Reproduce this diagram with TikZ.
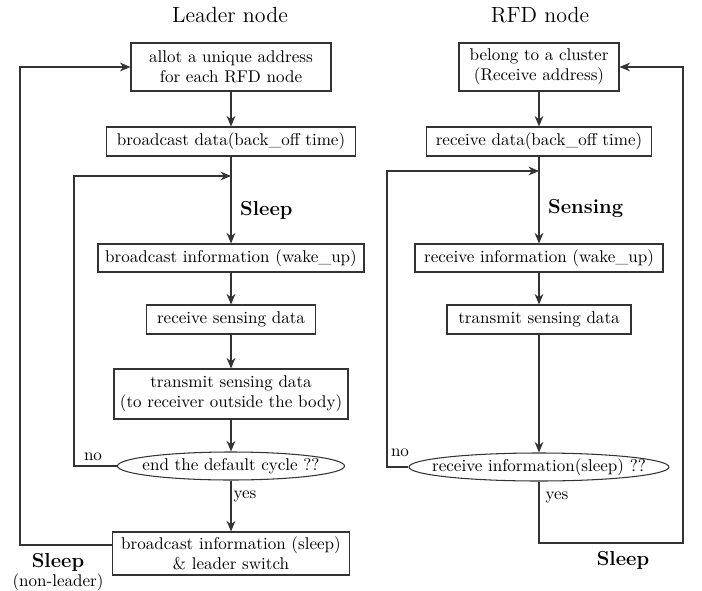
\documentclass[tikz,border=0pt]{standalone}
\usetikzlibrary{shapes.geometric,arrows.meta}
\tikzset{
  box/.style={draw=black!80, line width=0.6pt, align=center, inner sep=1pt, font=\fontsize{9.7}{11.5}\selectfont},
  cond/.style={ellipse, draw=black!80, line width=0.6pt, inner xsep=-2cm, inner ysep=-1cm, minimum height=0.56cm, font=\fontsize{9.7}{11.5}\selectfont},
  flow/.style={draw=black!80, line width=0.6pt, -{Stealth[length=6pt,width=5pt]}},
  state/.style={font=\fontsize{11.5}{13}\selectfont\bfseries},
  lab/.style={font=\fontsize{9.7}{11.5}\selectfont},
  title/.style={font=\fontsize{12.5}{15}\selectfont}
}
\begin{document}
\begin{tikzpicture}
  % 余白を含めた範囲
  \useasboundingbox (0,0) rectangle (14.04,11.8);
  % 見出し
  \node[title] (lead) at (4.6,11.5) {Leader node};
  \node[title] (rfd) at (10.8,11.5) {RFD node};
  % Leader node の処理
  \node[box, minimum width=4cm, minimum height=0.96cm] (allot) at (4.62,10.46) {allot a unique address\\for each RFD node};
  \node[box, minimum width=4.98cm, minimum height=0.58cm] (bcast) at (4.62,8.97) {broadcast data(back\_off time)};
  \node[box, minimum width=5.32cm, minimum height=0.56cm] (wake) at (4.62,6.64) {broadcast information (wake\_up)};
  \node[box, minimum width=3.38cm, minimum height=0.58cm] (rsense) at (4.62,5.41) {receive sensing data};
  \node[box, minimum width=4.68cm, minimum height=1cm] (tsense) at (4.62,3.92) {transmit sensing data\\(to receiver outside the body)};
  \node[cond, minimum width=4.54cm] (cycle) at (4.62,2.48) {end the default cycle ??};
  \node[box, minimum width=4.74cm, minimum height=0.86cm] (switch) at (4.62,0.73) {broadcast information (sleep)\\\& leader switch};
  % RFD node の処理
  \node[box, minimum width=3.2cm, minimum height=0.96cm] (belong) at (10.78,10.46) {belong to a cluster\\(Receive address)};
  \node[box, minimum width=4.5cm, minimum height=0.58cm] (rdata) at (10.78,8.97) {receive data(back\_off time)};
  \node[box, minimum width=4.96cm, minimum height=0.56cm] (rwake) at (10.78,6.64) {receive information (wake\_up)};
  \node[box, minimum width=3.68cm, minimum height=0.58cm] (rtrans) at (10.78,5.41) {transmit sensing data};
  \node[cond, minimum width=5.2cm] (rsleep) at (10.78,2.46) {receive information(sleep) ??};
  % ループの折れ点
  \coordinate (outerL) at (0.4,0.9);
  \coordinate (innerL) at (1.48,8.28);
  \coordinate (joinL) at (4.62,8.28);
  \coordinate (innerR) at (7.74,8.38);
  \coordinate (joinR) at (10.78,8.38);
  \coordinate (outerR) at (13.66,0.94);
  % Leader node の矢印
  \draw[flow] (allot) -- (bcast);
  \draw[flow] (bcast) -- (wake);
  \draw[flow] (wake) -- (rsense);
  \draw[flow] (rsense) -- (tsense);
  \draw[flow] (tsense) -- (cycle);
  \draw[flow] (cycle) -- (switch);
  \draw[flow] (cycle.west) -| (innerL) -- (joinL);
  \draw[flow] (switch.west |- outerL) -- (outerL) |- (allot.west);
  % RFD node の矢印
  \draw[flow] (belong) -- (rdata);
  \draw[flow] (rdata) -- (rwake);
  \draw[flow] (rwake) -- (rtrans);
  \draw[flow] (rtrans) -- (rsleep);
  \draw[flow] (rsleep.west) -| (innerR) -- (joinR);
  \draw[flow] (rsleep.south) |- (outerR) |- (belong.east);
  % 状態と分岐のラベル
  \node[state, anchor=west] (sleepL) at (4.68,7.6) {Sleep};
  \node[state, anchor=west] (sensR) at (10.84,7.64) {Sensing};
  \node[lab] (noL) at (1.86,2.66) {no};
  \node[lab] (noR) at (8.0,2.74) {no};
  \node[lab] (yesL) at (4.9,1.88) {yes};
  \node[lab] (yesR) at (11.14,1.86) {yes};
  \node[state] (sleepR) at (12.46,0.6) {Sleep};
  \node[state] (sleepB) at (1.16,0.56) {Sleep};
  \node[lab] (nonlead) at (1.16,0.16) {(non-leader)};
\end{tikzpicture}
\end{document}
